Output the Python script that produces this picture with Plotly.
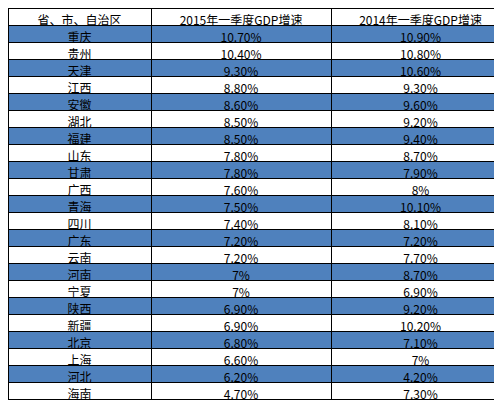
import plotly.graph_objects as go

header = ["省、市、自治区", "2015年一季度GDP增速", "2014年一季度GDP增速"]
regions = ["重庆", "贵州", "天津", "江西", "安徽", "湖北", "福建", "山东", "甘肃", "广西", "青海",
           "四川", "广东", "云南", "河南", "宁夏", "陕西", "新疆", "北京", "上海", "河北", "海南"]
gdp_2015 = ["10.70%", "10.40%", "9.30%", "8.80%", "8.60%", "8.50%", "8.50%", "7.80%", "7.80%", "7.60%",
            "7.50%", "7.40%", "7.20%", "7.20%", "7%", "7%", "6.90%", "6.90%", "6.80%", "6.60%", "6.20%", "4.70%"]
gdp_2014 = ["10.90%", "10.80%", "10.60%", "9.30%", "9.60%", "9.20%", "9.40%", "8.70%", "7.90%", "8%",
            "10.10%", "8.10%", "7.20%", "7.70%", "8.70%", "6.90%", "9.20%", "10.20%", "7.10%", "7%", "4.20%", "7.30%"]

row_fill = ["#4f81bd" if i % 2 == 0 else "white" for i in range(len(regions))]
font = dict(family="Noto Sans CJK SC", size=12, color="black")

fig = go.Figure(go.Table(
    columnwidth=[143, 180, 179],
    header=dict(values=header, fill_color="white", line_color="black", line_width=1,
                align="center", font=font, height=17),
    cells=dict(values=[regions, gdp_2015, gdp_2014], fill_color=[row_fill] * 3,
               line_color="black", line_width=1, align="center", font=font, height=17),
))
fig.update_layout(width=502, height=415, margin=dict(l=0, r=0, t=0, b=0),
                  paper_bgcolor="white")
fig.write_html("out.html")
